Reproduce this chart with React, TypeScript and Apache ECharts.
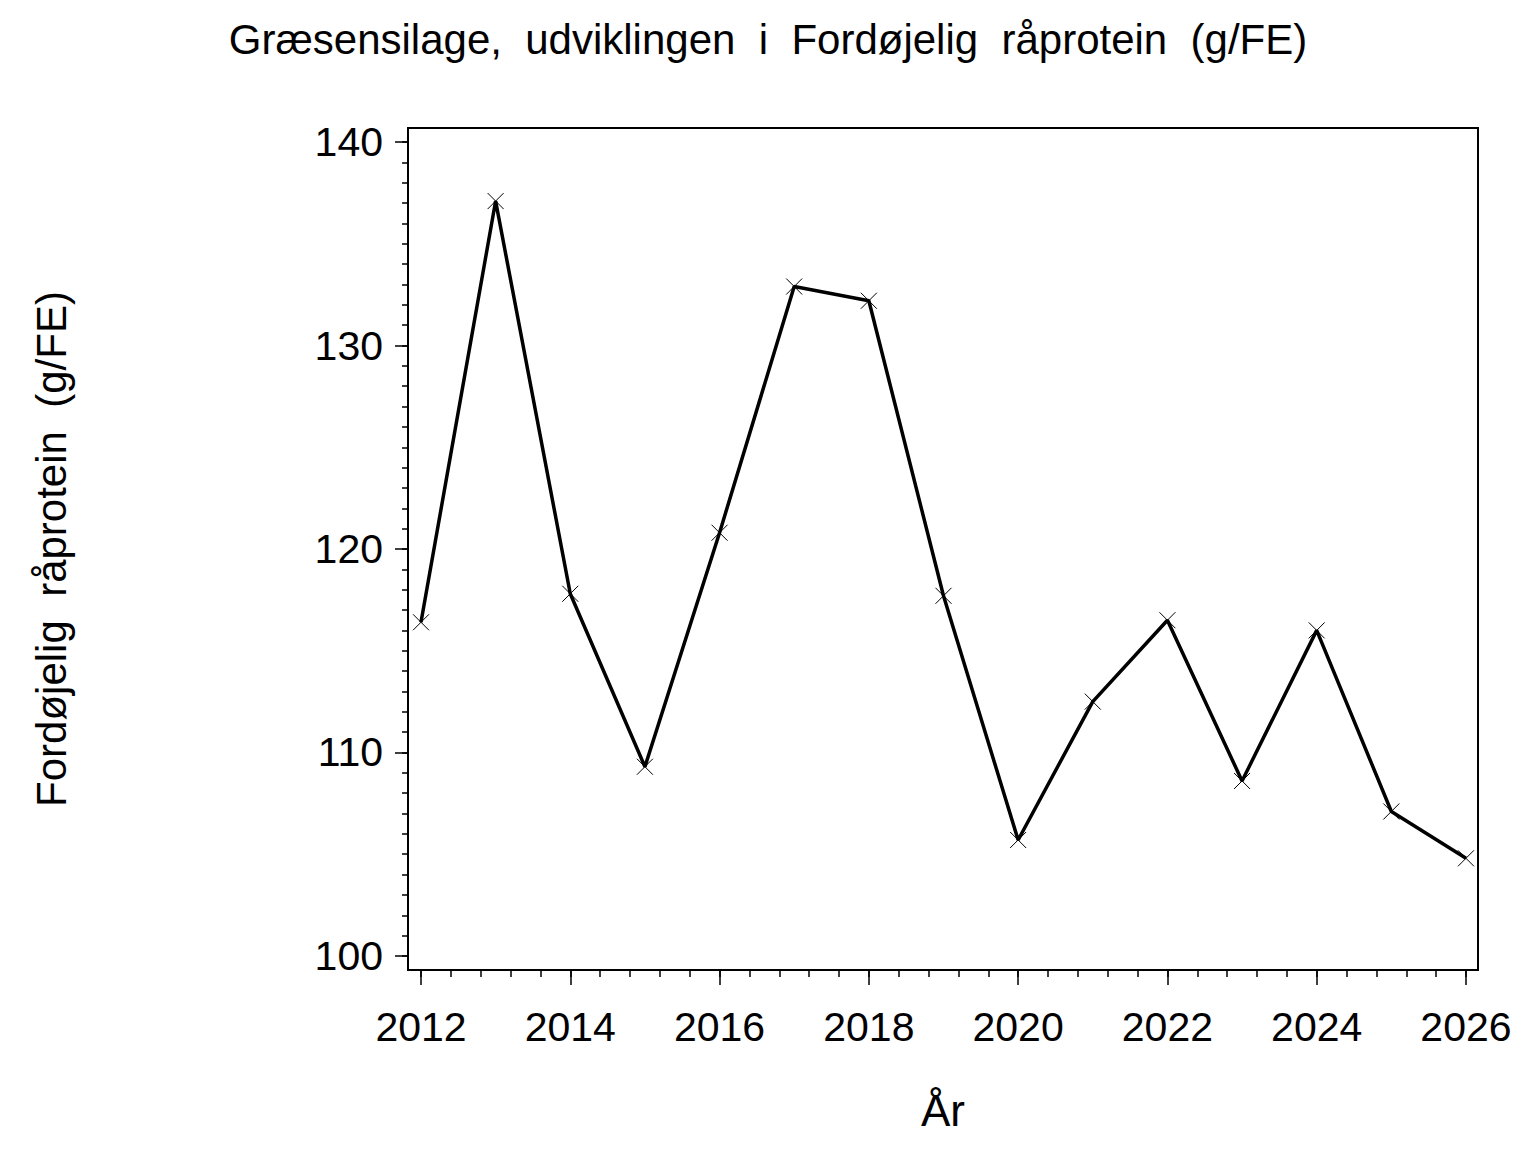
import React, { useEffect, useRef } from "react";
import * as echarts from "echarts";

const years = [2012, 2013, 2014, 2015, 2016, 2017, 2018, 2019, 2020, 2021, 2022, 2023, 2024, 2025, 2026];
const values = [116.4, 137.1, 117.8, 109.3, 120.8, 132.9, 132.2, 117.7, 105.7, 112.5, 116.5, 108.6, 116.0, 107.1, 104.8];
const xMajorTicks = [2012, 2014, 2016, 2018, 2020, 2022, 2024, 2026];
const yMajorTicks = [100, 110, 120, 130, 140];

const titleText = "Græsensilage,  udviklingen  i  Fordøjelig  råprotein  (g/FE)";
const yName = "Fordøjelig  råprotein  (g/FE)";
const xName = "År";

const FONT = "'Liberation Sans', Arial, sans-serif";

export default function App() {
  const ref = useRef<HTMLDivElement>(null);
  useEffect(() => {
    if (!ref.current) return;
    const chart = echarts.init(ref.current, undefined, { renderer: "svg" });
    const xMinor: number[] = [];
    for (let i = 0; i <= 35; i++) xMinor.push(Math.round((2012 + i * 0.4) * 10) / 10);
    const yMinor: number[] = [];
    for (let v = 100; v <= 140; v++) yMinor.push(v);
    const xMin = 2011.826, xMax = 2026.161;
    const yMin = 99.31, yMax = 140.69;
    chart.setOption({
      animation: false,
      backgroundColor: "#fff",
      textStyle: { fontFamily: FONT, color: "#000" },
      title: {
        text: titleText,
        left: "center",
        top: 13,
        textStyle: { fontFamily: FONT, fontSize: 42, fontWeight: "normal", color: "#000" },
      },
      grid: {
        left: 408, top: 128, right: 58, bottom: 182,
        show: true, borderColor: "#000", borderWidth: 2, backgroundColor: "transparent",
      },
      xAxis: [
        {
          type: "value", min: xMin, max: xMax,
          name: xName, nameLocation: "middle", nameGap: 118,
          nameTextStyle: { fontFamily: FONT, fontSize: 44, color: "#000" },
          axisLine: { show: false },
          splitLine: { show: false },
          axisTick: { show: true, customValues: xMajorTicks, length: 15, lineStyle: { color: "#000", width: 1.5 } },
          axisLabel: {
            customValues: xMajorTicks, margin: 36, fontFamily: FONT, fontSize: 41, color: "#000",
            formatter: (v: number) => String(Math.round(v)),
          },
        },
        {
          type: "value", min: xMin, max: xMax, position: "bottom",
          axisLine: { show: false }, splitLine: { show: false },
          axisLabel: { show: false },
          axisTick: { show: true, customValues: xMinor, length: 7, lineStyle: { color: "#000", width: 1.5 } },
        },
      ],
      yAxis: [
        {
          type: "value", min: yMin, max: yMax,
          name: yName, nameLocation: "middle", nameGap: 336, nameRotate: 90,
          nameTextStyle: { fontFamily: FONT, fontSize: 42, color: "#000" },
          axisLine: { show: false }, splitLine: { show: false },
          axisTick: { show: true, customValues: yMajorTicks, length: 13, lineStyle: { color: "#000", width: 1.5 } },
          axisLabel: {
            customValues: yMajorTicks, margin: 25, fontFamily: FONT, fontSize: 41, color: "#000",
            formatter: (v: number) => String(Math.round(v)),
          },
        },
        {
          type: "value", min: yMin, max: yMax, position: "left",
          axisLine: { show: false }, splitLine: { show: false },
          axisLabel: { show: false },
          axisTick: { show: true, customValues: yMinor, length: 6, lineStyle: { color: "#000", width: 1.5 } },
        },
      ],
      series: [
        {
          type: "line",
          xAxisIndex: 0, yAxisIndex: 0,
          data: years.map((y, i) => [y, values[i]]),
          lineStyle: { color: "#000", width: 3.5 },
          symbol: "path://M0,0L10,10M10,0L0,10",
          symbolSize: 16,
          showSymbol: true,
          itemStyle: { color: "none", borderColor: "#000", borderWidth: 1 },
          z: 3,
        },
      ],
    });
    return () => chart.dispose();
  }, []);
  return <div ref={ref} style={{ position: "fixed", left: 0, top: 0, width: 1536, height: 1152 }} />;
}
